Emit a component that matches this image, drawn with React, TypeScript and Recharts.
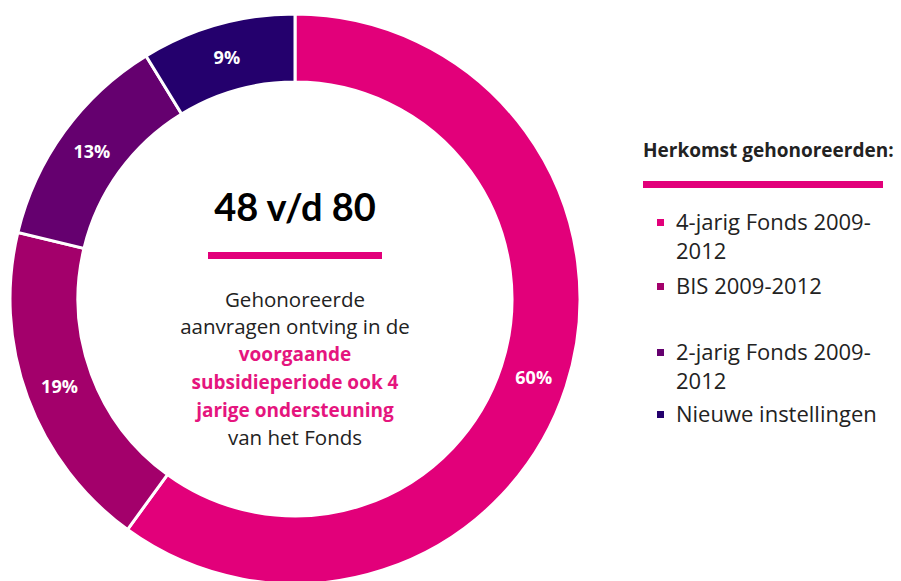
import React from 'react';
import { PieChart, Pie, Cell, Legend } from 'recharts';

// aantal gehonoreerde instellingen per herkomst (48 + 15 + 10 + 7 = 80)
const categories = ['4-jarig Fonds 2009-2012', 'BIS 2009-2012', '2-jarig Fonds 2009-2012', 'Nieuwe instellingen'];
const counts = [48, 15, 10, 7];
const colors = ['#e2007a', '#a3006b', '#65006f', '#24006d'];
// legenda-regels zoals in het origineel afgebroken
const legendLines = [['4-jarig Fonds 2009-', '2012'], ['BIS 2009-2012', ''], ['2-jarig Fonds 2009-', '2012'], ['Nieuwe instellingen']];

const total = counts.reduce((a, b) => a + b, 0);
const data = categories.map((name, i) => ({ name, value: counts[i] }));

const FONT = '"Open Sans", sans-serif';
const PINK = '#e2007a';

const RADIAN = Math.PI / 180;

function renderLabel({ cx, cy, midAngle, innerRadius, outerRadius, value }: any) {
  const r = (innerRadius + outerRadius) / 2;
  const x = cx + r * Math.cos(-midAngle * RADIAN);
  const y = cy + r * Math.sin(-midAngle * RADIAN);
  return (
    <text x={x} y={y} fill="#fff" textAnchor="middle" dominantBaseline="central"
      style={{ fontFamily: FONT, fontWeight: 700, fontSize: 18 }}>
      {Math.round((value / total) * 100)}%
    </text>
  );
}

function LegendContent() {
  const gaps = [6, 8, 4, 0];
  return (
    <div style={{ fontFamily: FONT, color: '#222', width: 260 }}>
      <div style={{ fontWeight: 700, fontSize: 19, whiteSpace: 'nowrap' }}>Herkomst gehonoreerden:</div>
      <div style={{ height: 7, width: 240, background: PINK, marginTop: 18, marginBottom: 19 }} />
      {legendLines.map((lines, i) => (
        <div key={i} style={{ display: 'flex', fontSize: 22, lineHeight: '29px', marginBottom: gaps[i], whiteSpace: 'nowrap' }}>
          <span style={{ width: 7, height: 7, background: colors[i], marginTop: 12, marginLeft: 14, marginRight: 12, flexShrink: 0 }} />
          <span>{lines.map((l, j) => <div key={j} style={{ height: 29 }}>{l}</div>)}</span>
        </div>
      ))}
    </div>
  );
}

export default function App() {
  return (
    <div style={{ position: 'absolute', left: 0, top: 0, width: 901, height: 581, background: '#fff', overflow: 'hidden' }}>
      <PieChart width={901} height={581} margin={{ top: 0, right: 0, bottom: 0, left: 0 }}>
        <Pie
          data={data}
          dataKey="value"
          cx={295}
          cy={299}
          innerRadius={217}
          outerRadius={285}
          startAngle={90}
          endAngle={-270}
          stroke="#fff"
          strokeWidth={3}
          label={renderLabel}
          labelLine={false}
          isAnimationActive={false}
        >
          {data.map((d, i) => <Cell key={d.name} fill={colors[i]} />)}
        </Pie>
        <Legend content={<LegendContent />} wrapperStyle={{ position: 'absolute', left: 643, top: 137, width: 260 }} />
      </PieChart>
      <div style={{ position: 'absolute', left: 145, top: 182, width: 300, textAlign: 'center', fontFamily: FONT }}>
        <div style={{ fontWeight: 700, fontSize: 38, color: '#000', lineHeight: '48px', fontFamily: 'Lato, sans-serif' }}>48 v/d 80</div>
        <div style={{ width: 174, height: 7, background: PINK, margin: '22px auto 27px' }} />
        <div style={{ fontSize: 20.5, lineHeight: '27px', color: '#222' }}>
          Gehonoreerde<br />aanvragen ontving in de<br />
          <span style={{ color: '#e5157e', fontWeight: 700, fontSize: 19 }}>voorgaande<br />subsidieperiode ook 4<br />jarige ondersteuning</span><br />
          van het Fonds
        </div>
      </div>
    </div>
  );
}
